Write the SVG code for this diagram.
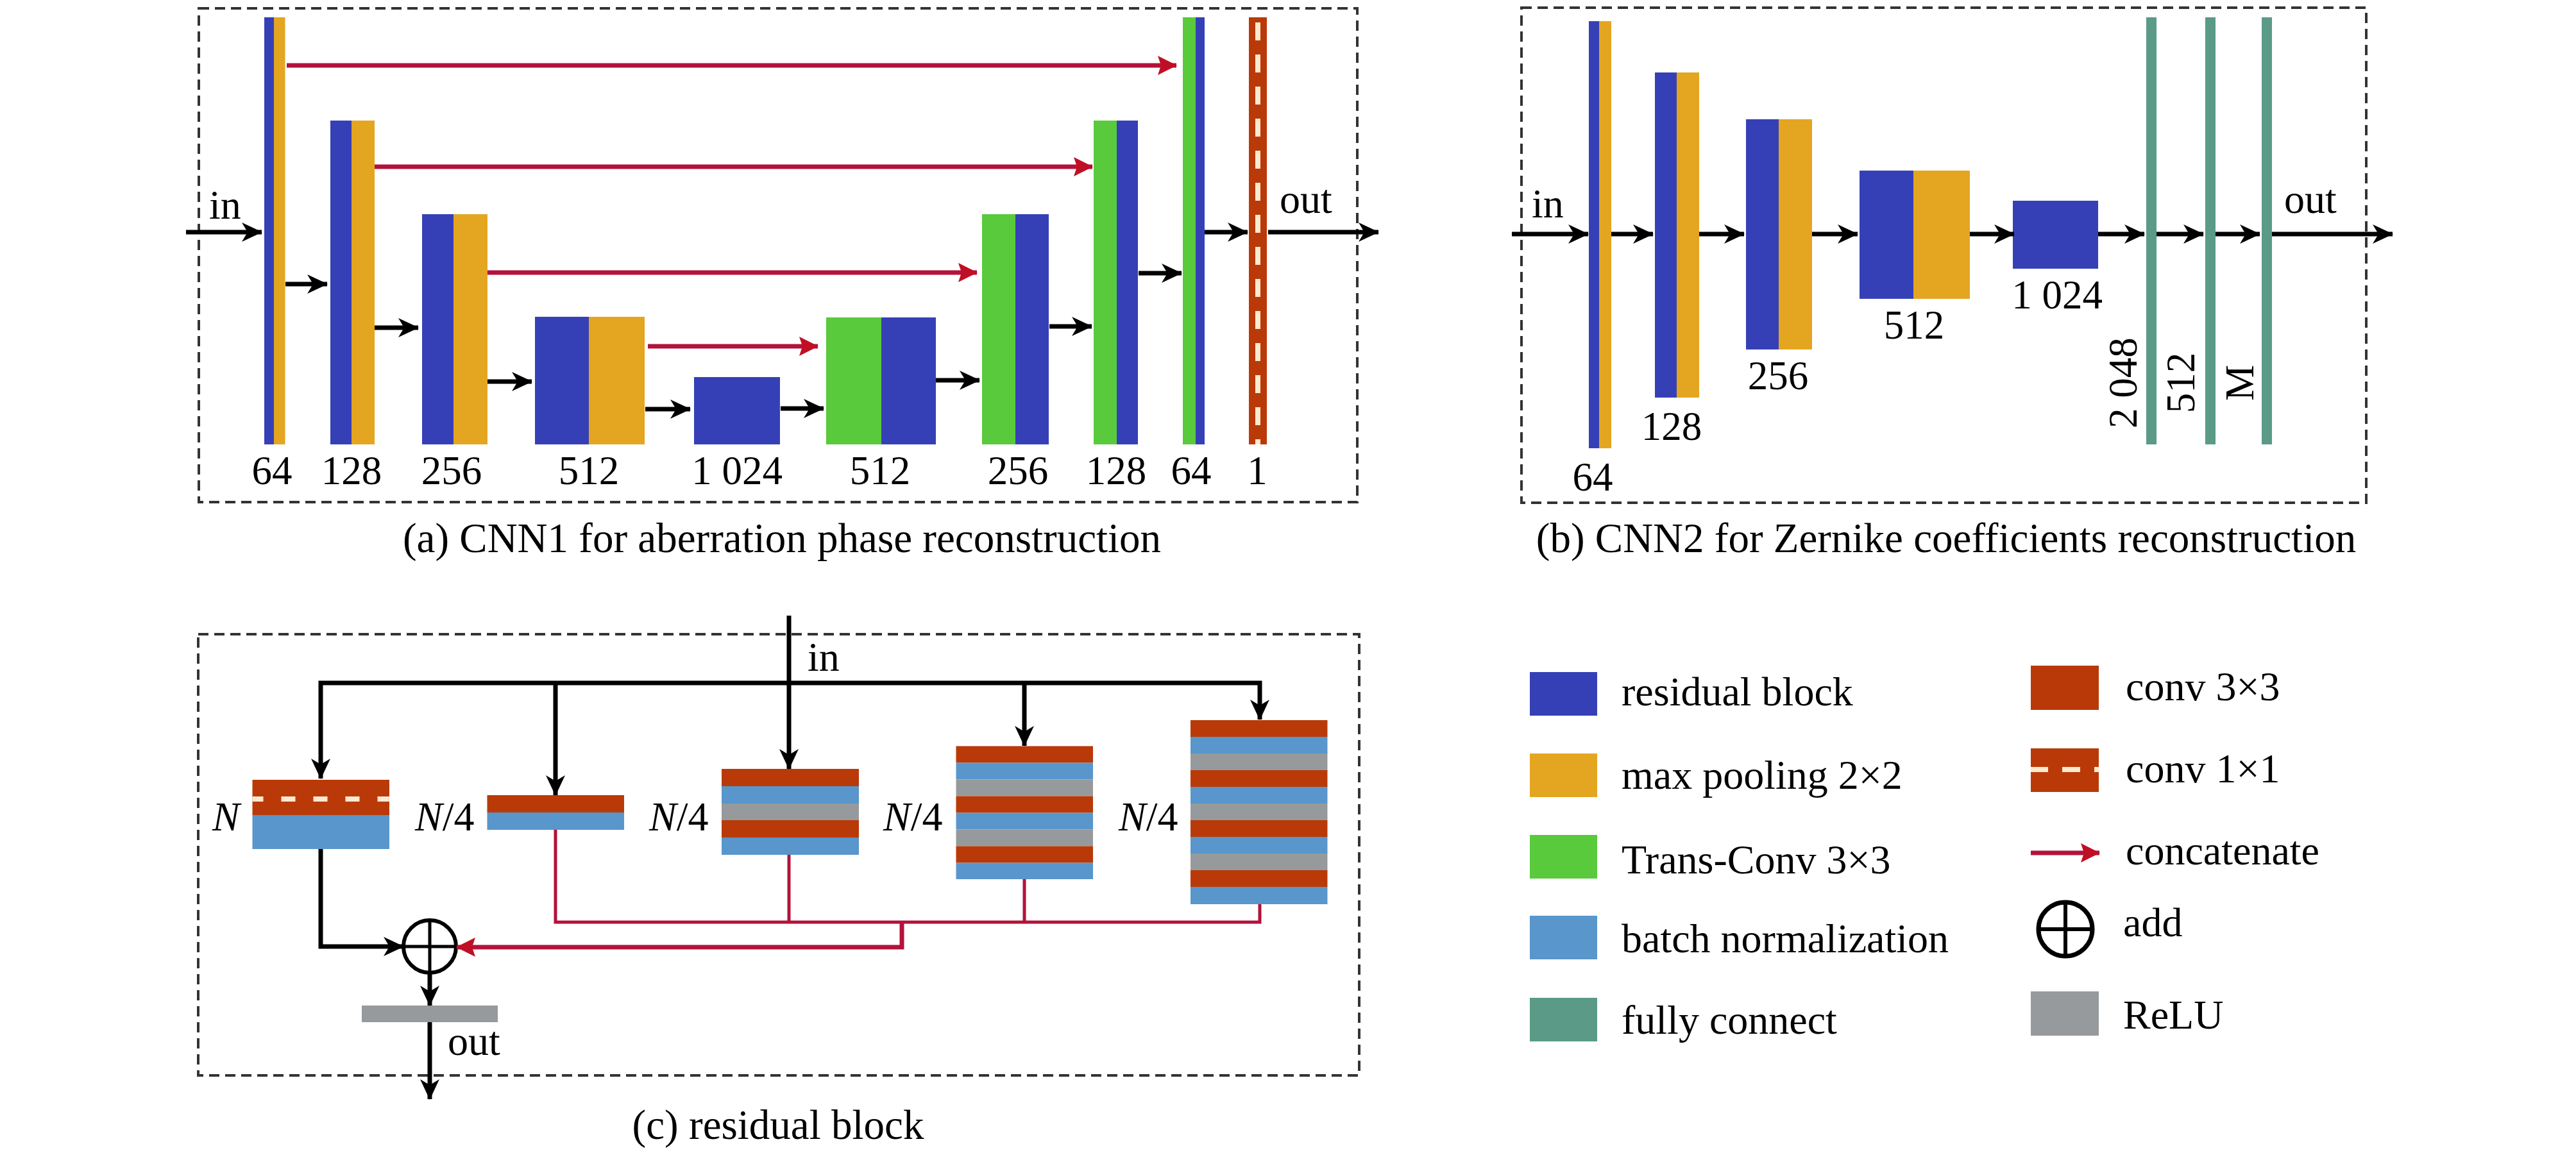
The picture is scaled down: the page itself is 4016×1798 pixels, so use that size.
<svg xmlns="http://www.w3.org/2000/svg" width="4016" height="1798" viewBox="0 0 4016 1798">
<style>
.t{font-family:"Liberation Serif","Times New Roman",serif;font-size:64px;fill:#000}
.num{font-family:"Liberation Serif","Times New Roman",serif;font-size:63px;fill:#000;text-anchor:middle}
.cap{font-family:"Liberation Serif","Times New Roman",serif;font-size:65px;fill:#000;text-anchor:middle}
.box{fill:none;stroke:#333;stroke-width:4;stroke-dasharray:16 9}
.rb{fill:#3640B6}
.mp{fill:#E4A521}
.tc{fill:#58CA3C}
.bn{fill:#5896CB}
.fc{fill:#5A9A86}
.cv{fill:#B93A08}
.re{fill:#969A9C}
.ka{fill:none;stroke:#000;stroke-width:7;marker-end:url(#ab)}
.ra{fill:none;stroke:#B3123A;stroke-width:7;marker-end:url(#ar)}
.rl{fill:none;stroke:#B3123A;stroke-width:5}
.dw{stroke:#FCE9CF;stroke-width:8;fill:none}
</style>
<defs>
<marker id="ab" viewBox="0 0 32 32" refX="31" refY="16" markerWidth="32" markerHeight="32" markerUnits="userSpaceOnUse" orient="auto-start-reverse"><path d="M0,1 L32,16 L0,31 L9,16 Z" fill="#000"/></marker>
<marker id="ar" viewBox="0 0 30 30" refX="29" refY="15" markerWidth="30" markerHeight="30" markerUnits="userSpaceOnUse" orient="auto"><path d="M0,0 L30,15 L0,30 L5,15 Z" fill="#C00F25"/></marker>
</defs>
<rect width="4016" height="1798" fill="#fff"/>

<!-- Panel (a) -->
<g id="panel-a">
<rect class="box" x="310" y="13" width="1806" height="770"/>
<g id="a-b1"><rect class="rb" x="412" y="27" width="15" height="666"/><rect class="mp" x="427" y="27" width="17.5" height="666"/><text class="num" x="424" y="755">64</text></g>
<g id="a-b2"><rect class="rb" x="515" y="188" width="33" height="505"/><rect class="mp" x="548" y="188" width="36" height="505"/><text class="num" x="548" y="755">128</text></g>
<g id="a-b3"><rect class="rb" x="658" y="334" width="49" height="359"/><rect class="mp" x="707" y="334" width="53" height="359"/><text class="num" x="704" y="755">256</text></g>
<g id="a-b4"><rect class="rb" x="834" y="494" width="84" height="199"/><rect class="mp" x="918" y="494" width="87" height="199"/><text class="num" x="918" y="755">512</text></g>
<g id="a-b5"><rect class="rb" x="1082" y="588" width="134" height="105"/><text class="num" x="1149" y="755">1 024</text></g>
<g id="a-b6"><rect class="tc" x="1288" y="495" width="86" height="198"/><rect class="rb" x="1374" y="495" width="85" height="198"/><text class="num" x="1372" y="755">512</text></g>
<g id="a-b7"><rect class="tc" x="1531" y="334" width="52" height="359"/><rect class="rb" x="1583" y="334" width="52" height="359"/><text class="num" x="1587" y="755">256</text></g>
<g id="a-b8"><rect class="tc" x="1705" y="188" width="36" height="505"/><rect class="rb" x="1741" y="188" width="33" height="505"/><text class="num" x="1740" y="755">128</text></g>
<g id="a-b9"><rect class="tc" x="1844" y="27" width="20" height="666"/><rect class="rb" x="1864" y="27" width="14" height="666"/><text class="num" x="1857" y="755">64</text></g>
<g id="a-b10"><rect class="cv" x="1947" y="27" width="28" height="666"/><line class="dw" x1="1961" y1="27" x2="1961" y2="693" stroke-dasharray="28 22" stroke-dashoffset="-8"/><text class="num" x="1960" y="755">1</text></g>
<text class="t" x="326" y="341">in</text>
<text class="t" x="1995" y="332">out</text>
<text class="cap" x="1219" y="861">(a) CNN1 for aberration phase reconstruction</text>
</g>

<!-- Panel (b) -->
<g id="panel-b">
<rect class="box" x="2372" y="12" width="1317" height="772"/>
<g id="b-b1"><rect class="rb" x="2477" y="33" width="16" height="666"/><rect class="mp" x="2493" y="33" width="19" height="666"/><text class="num" x="2483" y="765">64</text></g>
<g id="b-b2"><rect class="rb" x="2580" y="113" width="34" height="507"/><rect class="mp" x="2614" y="113" width="35" height="507"/><text class="num" x="2606" y="686">128</text></g>
<g id="b-b3"><rect class="rb" x="2722" y="186" width="51" height="359"/><rect class="mp" x="2773" y="186" width="52" height="359"/><text class="num" x="2772" y="607">256</text></g>
<g id="b-b4"><rect class="rb" x="2899" y="266" width="84" height="200"/><rect class="mp" x="2983" y="266" width="88" height="200"/><text class="num" x="2984" y="528">512</text></g>
<g id="b-b5"><rect class="rb" x="3138" y="313" width="133" height="106"/><text class="num" x="3207" y="481">1 024</text></g>
<g id="b-fc1"><rect class="fc" x="3346" y="27" width="16" height="666"/><text class="num" transform="translate(3331,597) rotate(-90)">2 048</text></g>
<g id="b-fc2"><rect class="fc" x="3438" y="27" width="16" height="666"/><text class="num" transform="translate(3421,597) rotate(-90)">512</text></g>
<g id="b-fc3"><rect class="fc" x="3526" y="27" width="16" height="666"/><text class="num" transform="translate(3513,597) rotate(-90)">M</text></g>
<text class="t" x="2388" y="339">in</text>
<text class="t" x="3561" y="332">out</text>
<text class="cap" x="3034" y="861">(b) CNN2 for Zernike coefficients reconstruction</text>
</g>

<!-- Panel (c) -->
<g id="panel-c">
<rect class="box" x="309" y="989" width="1810" height="688"/>
<g id="c-n"><rect class="cv" x="393.5" y="1216" width="213.5" height="55"/><rect class="bn" x="393.5" y="1271" width="213.5" height="53"/><line class="dw" x1="393.5" y1="1246" x2="607" y2="1246" stroke-width="7" stroke-dasharray="22 28" stroke-dashoffset="5"/>
<text class="t" x="331" y="1295" font-size="66" font-style="italic">N</text></g>
<g id="c-q1"><rect class="cv" x="759.5" y="1240" width="213.5" height="27"/><rect class="bn" x="759.5" y="1267" width="213.5" height="27"/>
<text class="t" x="647" y="1295" font-size="66"><tspan font-style="italic">N</tspan>/4</text></g>
<g id="c-q2"><rect class="cv" x="1125" y="1199" width="214" height="27"/><rect class="bn" x="1125" y="1226" width="214" height="27"/><rect class="re" x="1125" y="1253" width="214" height="26"/><rect class="cv" x="1125" y="1279" width="214" height="27"/><rect class="bn" x="1125" y="1306" width="214" height="27"/>
<text class="t" x="1012" y="1295" font-size="66"><tspan font-style="italic">N</tspan>/4</text></g>
<g id="c-q3"><rect class="cv" x="1490.5" y="1163.5" width="213.5" height="26"/><rect class="bn" x="1490.5" y="1189.5" width="213.5" height="26"/><rect class="re" x="1490.5" y="1215.5" width="213.5" height="26"/><rect class="cv" x="1490.5" y="1241.5" width="213.5" height="26"/><rect class="bn" x="1490.5" y="1267.5" width="213.5" height="26"/><rect class="re" x="1490.5" y="1293.5" width="213.5" height="26"/><rect class="cv" x="1490.5" y="1319.5" width="213.5" height="26"/><rect class="bn" x="1490.5" y="1345.5" width="213.5" height="25.5"/>
<text class="t" x="1377" y="1295" font-size="66"><tspan font-style="italic">N</tspan>/4</text></g>
<g id="c-q4"><rect class="cv" x="1856" y="1123" width="213.5" height="26"/><rect class="bn" x="1856" y="1149" width="213.5" height="26"/><rect class="re" x="1856" y="1175" width="213.5" height="26"/><rect class="cv" x="1856" y="1201" width="213.5" height="26"/><rect class="bn" x="1856" y="1227" width="213.5" height="26"/><rect class="re" x="1856" y="1253" width="213.5" height="26"/><rect class="cv" x="1856" y="1279" width="213.5" height="26"/><rect class="bn" x="1856" y="1305" width="213.5" height="26"/><rect class="re" x="1856" y="1331" width="213.5" height="26"/><rect class="cv" x="1856" y="1357" width="213.5" height="26"/><rect class="bn" x="1856" y="1383" width="213.5" height="27"/>
<text class="t" x="1744" y="1295" font-size="66"><tspan font-style="italic">N</tspan>/4</text></g>
<g id="c-add"><circle cx="670" cy="1476" r="41" fill="none" stroke="#000" stroke-width="6"/><line x1="629" y1="1476" x2="711" y2="1476" stroke="#000" stroke-width="5"/><line x1="670" y1="1435" x2="670" y2="1517" stroke="#000" stroke-width="5"/></g>
<g id="c-relu"><rect class="re" x="564" y="1568" width="212" height="26"/></g>
<text class="t" x="1259" y="1046">in</text>
<text class="t" x="698" y="1645">out</text>
<text class="cap" x="1213" y="1776">(c) residual block</text>
</g>

<!-- Legend -->
<g id="legend">
<g id="lg-rb"><rect class="rb" x="2385" y="1048" width="105" height="68"/><text class="t" x="2528" y="1100">residual block</text></g>
<g id="lg-mp"><rect class="mp" x="2385" y="1175" width="105" height="68"/><text class="t" x="2528" y="1230">max pooling 2×2</text></g>
<g id="lg-tc"><rect class="tc" x="2385" y="1302" width="105" height="68"/><text class="t" x="2528" y="1362">Trans-Conv 3×3</text></g>
<g id="lg-bn"><rect class="bn" x="2385" y="1428" width="105" height="68"/><text class="t" x="2528" y="1485">batch normalization</text></g>
<g id="lg-fc"><rect class="fc" x="2385" y="1556" width="105" height="68"/><text class="t" x="2528" y="1612">fully connect</text></g>
<g id="lg-c3"><rect class="cv" x="3166" y="1038" width="106" height="69"/><text class="t" x="3314" y="1092">conv 3×3</text></g>
<g id="lg-c1"><rect class="cv" x="3166" y="1167" width="106" height="68"/><line class="dw" x1="3166" y1="1200" x2="3272" y2="1200" stroke-width="8" stroke-dasharray="28 22" stroke-dashoffset="1"/><text class="t" x="3314" y="1220">conv 1×1</text></g>
<g id="lg-cat"><line class="ra" x1="3166" y1="1330" x2="3273" y2="1330" stroke-width="9"/><text class="t" x="3314" y="1348">concatenate</text></g>
<g id="lg-add"><circle cx="3220" cy="1449" r="42" fill="none" stroke="#000" stroke-width="7"/><line x1="3178" y1="1449" x2="3262" y2="1449" stroke="#000" stroke-width="6"/><line x1="3220" y1="1407" x2="3220" y2="1491" stroke="#000" stroke-width="6"/><text class="t" x="3310" y="1460">add</text></g>
<g id="lg-re"><rect class="re" x="3166" y="1546" width="106" height="69"/><text class="t" x="3310" y="1604">ReLU</text></g>
</g>

<!-- Connectors -->
<g id="connectors">
<line class="ra" x1="447" y1="102" x2="1834" y2="102"/>
<line class="ra" x1="584" y1="260" x2="1703" y2="260"/>
<line class="ra" x1="760" y1="425" x2="1523" y2="425"/>
<line class="ra" x1="1010" y1="540" x2="1275" y2="540"/>
<line class="ka" x1="290" y1="362" x2="408" y2="362"/>
<line class="ka" x1="445" y1="443" x2="510" y2="443"/>
<line class="ka" x1="584" y1="511" x2="652" y2="511"/>
<line class="ka" x1="760" y1="595" x2="829" y2="595"/>
<line class="ka" x1="1006" y1="638" x2="1076" y2="638"/>
<line class="ka" x1="1217" y1="637" x2="1284" y2="637"/>
<line class="ka" x1="1459" y1="593" x2="1527" y2="593"/>
<line class="ka" x1="1636" y1="509" x2="1702" y2="509"/>
<line class="ka" x1="1775" y1="426" x2="1842" y2="426"/>
<line class="ka" x1="1878" y1="362" x2="1945" y2="362"/>
<line class="ka" x1="1977" y1="362" x2="2149" y2="362"/>

<line class="ka" x1="2357" y1="365" x2="2476" y2="365"/>
<line class="ka" x1="2512" y1="365" x2="2577" y2="365"/>
<line class="ka" x1="2649" y1="365" x2="2719" y2="365"/>
<line class="ka" x1="2825" y1="365" x2="2896" y2="365"/>
<line class="ka" x1="3071" y1="365" x2="3140" y2="365"/>
<line class="ka" x1="3271" y1="365" x2="3343" y2="365"/>
<line class="ka" x1="3362" y1="365" x2="3435" y2="365"/>
<line class="ka" x1="3454" y1="365" x2="3523" y2="365"/>
<line class="ka" x1="3542" y1="365" x2="3730" y2="365"/>

<line class="ka" x1="1230" y1="960" x2="1230" y2="1199" stroke-width="6"/>
<path class="ka" d="M500,1214 L500,1065 L1964,1065 L1964,1122" marker-start="url(#ab)" stroke-width="6"/>
<line class="ka" x1="866" y1="1065" x2="866" y2="1240" stroke-width="6"/>
<line class="ka" x1="1597" y1="1065" x2="1597" y2="1163" stroke-width="6"/>
<path class="ka" d="M500,1324 L500,1476 L629,1476" stroke-width="6"/>
<line class="ka" x1="670" y1="1517" x2="670" y2="1568" stroke-width="6"/>
<line class="ka" x1="670" y1="1594" x2="670" y2="1714" stroke-width="6"/>
<path class="rl" d="M866,1294 L866,1438 L1964,1438 L1964,1410"/>
<line class="rl" x1="1230" y1="1333" x2="1230" y2="1438"/>
<line class="rl" x1="1597" y1="1371" x2="1597" y2="1438"/>
<path class="ra" d="M1406,1438 L1406,1477 L712,1477" stroke-width="5"/>
</g>
</svg>
